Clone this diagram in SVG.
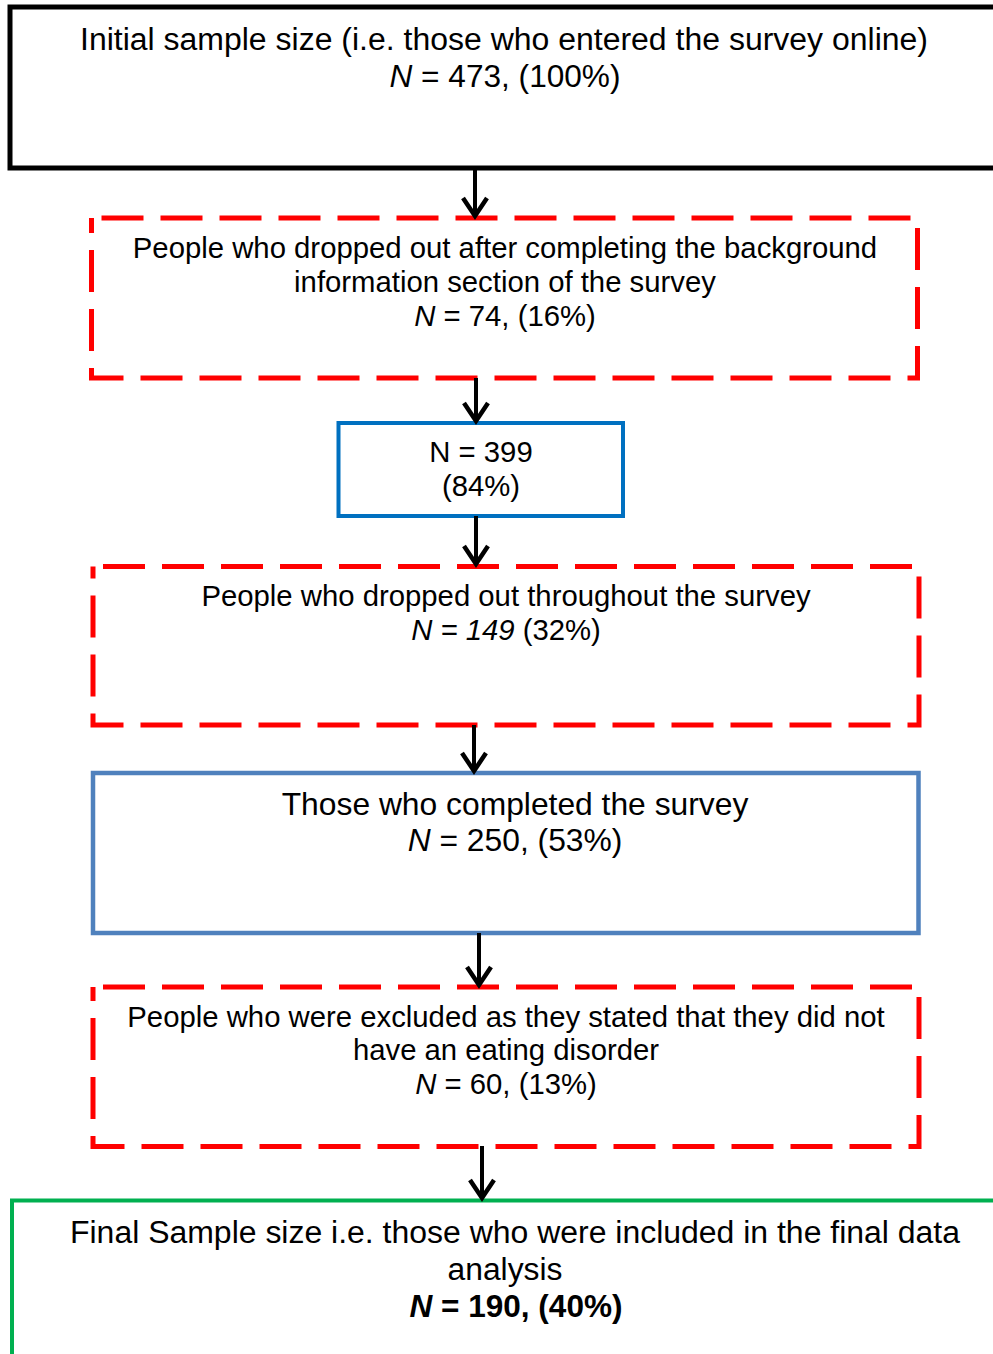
<svg xmlns="http://www.w3.org/2000/svg" width="993" height="1354" viewBox="0 0 993 1354">
  <style>
    text { font-family: "Liberation Sans", Arial, sans-serif; fill: #000; text-anchor: middle; }
    .t28 { font-size: 29.3px; }
    .t30 { font-size: 31.8px; }
    .t31 { font-size: 31px; }
    .it { font-style: italic; }
    .bold { font-weight: bold; }
    .box { fill: #fff; }
    .black { stroke: #000; stroke-width: 5; }
    .dash { stroke: #ff0000; stroke-width: 5; stroke-dasharray: 42 17; stroke-dashoffset: 49; }
    .blueA { stroke: #0070c0; stroke-width: 4; }
    .blueB { stroke: #4f81bd; stroke-width: 4.5; }
    .green { stroke: #00b050; stroke-width: 4; }
    .arrow { fill: none; stroke: #000; stroke-width: 4; marker-end: url(#chev); }
  </style>
  <defs>
    <marker id="chev" markerUnits="userSpaceOnUse" orient="auto" refX="0" refY="0" markerWidth="20" markerHeight="28" overflow="visible">
      <path d="M-18,-12 L0,0 L-18,12" fill="none" stroke="#000" stroke-width="4.5"/>
    </marker>
  </defs>

  <rect width="993" height="1354" fill="#fff"/>

  <!-- initial sample -->
  <g id="initial">
    <rect class="box black" x="10" y="7" width="1000" height="161"/>
    <text class="t31" x="504" y="50" textLength="848" lengthAdjust="spacingAndGlyphs">Initial sample size (i.e. those who entered the survey online)</text>
    <text class="t31" x="505" y="87" textLength="231" lengthAdjust="spacingAndGlyphs"><tspan class="it">N</tspan> = 473, (100%)</text>
  </g>

  <!-- dropout after background section -->
  <g id="dropout-background">
    <rect class="box dash" x="91.5" y="218" width="826" height="160"/>
    <text class="t28" x="505" y="258">People who dropped out after completing the background</text>
    <text class="t28" x="505" y="292">information section of the survey</text>
    <text class="t28" x="505" y="326"><tspan class="it">N</tspan> = 74, (16%)</text>
  </g>

  <!-- remaining after background -->
  <g id="remaining-399">
    <rect class="box blueA" x="338.5" y="423" width="284.5" height="93"/>
    <text class="t28" x="481" y="462">N = 399</text>
    <text class="t28" x="481" y="496">(84%)</text>
  </g>

  <!-- dropout during survey -->
  <g id="dropout-survey">
    <rect class="box dash" x="93" y="566.5" width="826" height="158.5"/>
    <text class="t28" x="506" y="606">People who dropped out throughout the survey</text>
    <text class="t28" x="506" y="640"><tspan class="it">N = 149</tspan> (32%)</text>
  </g>

  <!-- completed -->
  <g id="completed">
    <rect class="box blueB" x="93" y="773" width="825.5" height="160"/>
    <text class="t30" x="515" y="815">Those who completed the survey</text>
    <text class="t30" x="515" y="851"><tspan class="it">N</tspan> = 250, (53%)</text>
  </g>

  <!-- excluded -->
  <g id="excluded">
    <rect class="box dash" x="93" y="987" width="826" height="159.5"/>
    <text class="t28" x="506" y="1027">People who were excluded as they stated that they did not</text>
    <text class="t28" x="506" y="1060">have an eating disorder</text>
    <text class="t28" x="506" y="1094"><tspan class="it">N</tspan> = 60, (13%)</text>
  </g>

  <!-- final sample -->
  <g id="final">
    <rect class="box green" x="12" y="1200.5" width="1000" height="200"/>
    <text class="t31" x="515" y="1243" textLength="890" lengthAdjust="spacingAndGlyphs">Final Sample size i.e. those who were included in the final data</text>
    <text class="t31" x="505" y="1280" textLength="115" lengthAdjust="spacingAndGlyphs">analysis</text>
    <text class="t31 bold" x="516" y="1317" textLength="213" lengthAdjust="spacingAndGlyphs"><tspan class="it">N</tspan> = 190, (40%)</text>
  </g>

  <!-- connectors -->
  <g id="connectors">
    <path class="arrow" d="M475,168 L475,216"/>
    <path class="arrow" d="M476,378 L476,421"/>
    <path class="arrow" d="M476,516 L476,564"/>
    <path class="arrow" d="M474,725 L474,771"/>
    <path class="arrow" d="M479,933 L479,985"/>
    <path class="arrow" d="M482,1146 L482,1198"/>
  </g>
</svg>
